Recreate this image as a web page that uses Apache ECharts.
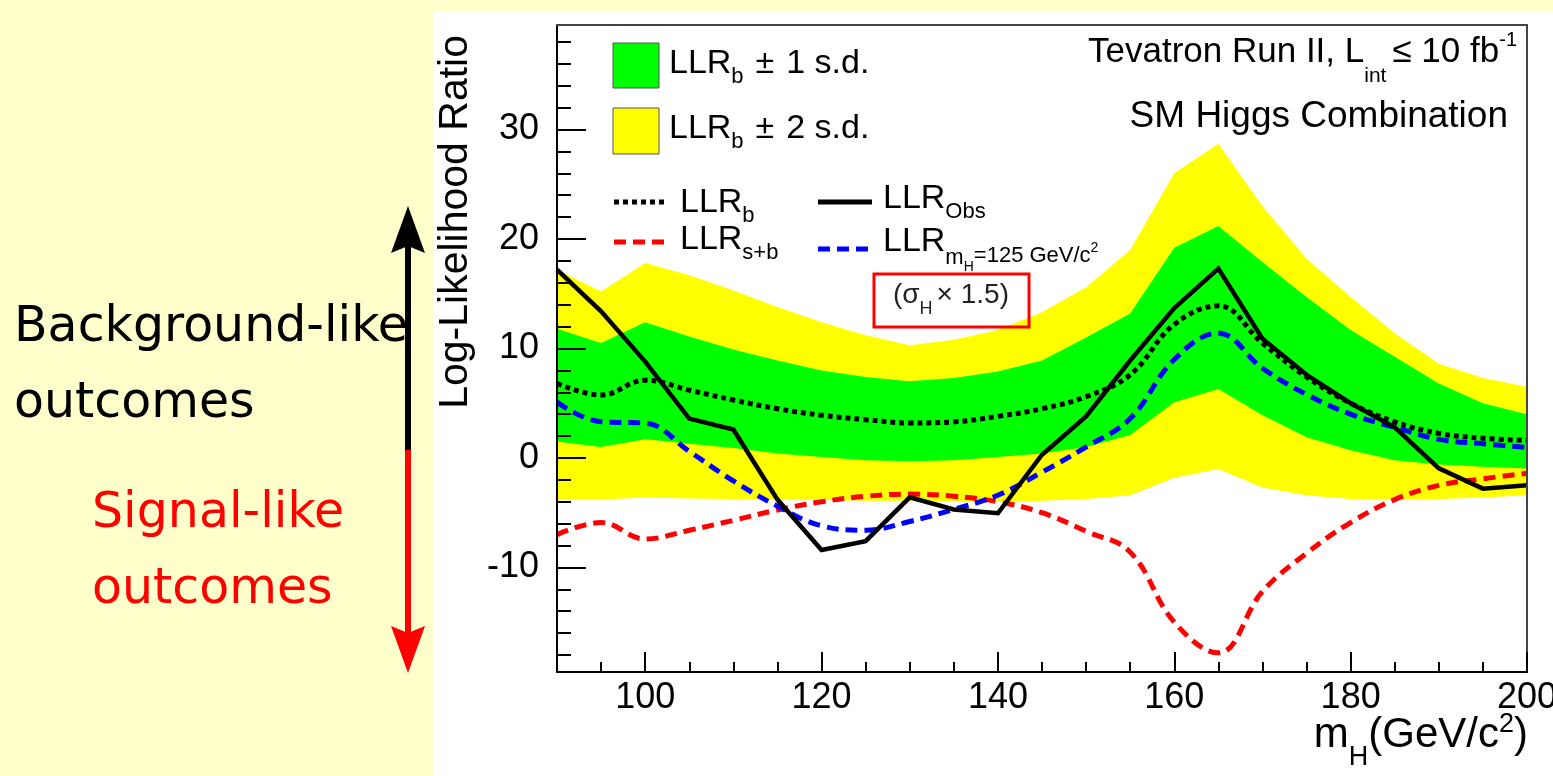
<!DOCTYPE html>
<html>
<head>
<meta charset="utf-8">
<script src="https://cdn.jsdelivr.net/npm/echarts@6/dist/echarts.min.js"></script>
<style>
html,body{margin:0;padding:0;background:#ffffcc;}
#chart{width:1553px;height:776px;}
</style>
</head>
<body>
<div id="chart"></div>
<script>
// ---- data (LLR vs Higgs mass) ----
const mass = [90,95,100,105,110,115,120,125,130,135,140,145,150,155,160,165,170,175,180,185,190,195,200];
const llrObs = [17.2,13.4,8.8,3.6,2.6,-3.8,-8.4,-7.6,-3.6,-4.7,-5.05,0.3,3.8,8.9,13.7,17.3,10.9,7.6,5.0,2.8,-0.95,-2.8,-2.5];
const llrB = [6.8,5.75,7.1,6.2,5.3,4.5,3.9,3.5,3.2,3.3,3.8,4.5,5.6,7.6,12.2,13.9,10.5,7.4,5.0,3.3,2.25,1.8,1.6];
const llrSB = [-7.0,-5.9,-7.4,-6.6,-5.7,-4.75,-4.0,-3.5,-3.3,-3.5,-4.0,-5.0,-6.7,-8.6,-15.0,-17.8,-12.2,-8.7,-5.9,-3.8,-2.5,-1.9,-1.4];
const llr125 = [5.1,3.3,3.2,0.6,-2.1,-4.4,-6.2,-6.6,-5.8,-4.7,-3.4,-1.3,1.0,3.6,9.0,11.4,8.2,5.8,4.0,2.8,1.7,1.3,0.95];
const band1Hi = [11.8,10.5,12.4,11.1,9.9,8.9,8.0,7.4,7.0,7.3,7.9,8.9,11.0,13.2,19.2,21.2,17.9,14.7,11.7,9.25,6.8,5.0,4.0];
const band1Lo = [1.5,1.0,1.7,1.3,0.9,0.4,0.1,-0.2,-0.3,-0.2,0.1,0.4,1.0,2.1,5.1,6.3,3.9,1.9,0.7,-0.2,-0.6,-0.8,-0.95];
const band2Hi = [17.2,15.2,17.8,16.7,15.3,13.8,12.4,11.2,10.3,10.8,11.7,13.3,15.6,19.0,26.0,28.7,23.0,18.2,14.7,11.4,8.6,7.3,6.5];
const band2Lo = [-3.75,-3.8,-3.6,-3.7,-3.75,-3.8,-3.85,-3.9,-3.9,-3.95,-4.0,-3.9,-3.75,-3.4,-1.8,-1.0,-2.7,-3.4,-3.75,-3.8,-3.75,-3.6,-3.4];
const xMajorTicks = [100,120,140,160,180,200];
const xMinorTicks = [95,105,110,115,125,130,135,145,150,155,165,170,175,185,190,195];
const yMajorTicks = [-10,0,10,20,30];
const yMinorTicks = [-18,-16,-14,-12,-8,-6,-4,-2,2,4,6,8,12,14,16,18,22,24,26,28,32,34,36,38];

const FONT = '"Liberation Sans", Arial, Helvetica, sans-serif';
const cv = document.createElement('canvas').getContext('2d');
function tw(t, s, fam) { cv.font = s + 'px ' + (fam || FONT); return cv.measureText(t).width; }
function txt(x, y, t, s, opts) {
  opts = opts || {};
  return {type:'text', x:x, y:y, z:100, rotation: opts.rot || 0, silent:true,
    style:{text:t, fontSize:s, fontFamily: opts.fam || FONT, fill: opts.color || '#000',
      align: opts.align || 'left', verticalAlign:'middle'}};
}
function seq(x, pieces, out) {
  pieces.forEach(p => { out.push(txt(x, p.y, p.t, p.s, p)); x += tw(p.t, p.s) + (p.gap || 0); });
  return x;
}
function seqWidth(pieces) { return pieces.reduce((a,p)=>a + tw(p.t,p.s) + (p.gap||0), 0); }

const g = [];
// white panel
g.push({type:'rect', z:-10, silent:true, shape:{x:433,y:11,width:1120,height:765}, style:{fill:'#ffffff'}});
// left annotations
const CF = '"Comic Sans MS", "DejaVu Sans", sans-serif';
g.push(txt(14, 328, 'Background-like', 49, {fam:CF}));
g.push(txt(14, 404, 'outcomes', 49, {fam:CF}));
g.push(txt(92, 514, 'Signal-like', 49, {fam:CF, color:'#ff0000'}));
g.push(txt(92, 590, 'outcomes', 49, {fam:CF, color:'#ff0000'}));
g.push({type:'line', z:50, silent:true, shape:{x1:408,y1:245,x2:408,y2:450}, style:{stroke:'#000', lineWidth:6}});
g.push({type:'polygon', z:50, silent:true, shape:{points:[[408,206],[391,253],[408,246],[425,253]]}, style:{fill:'#000'}});
g.push({type:'line', z:50, silent:true, shape:{x1:408,y1:450,x2:408,y2:633}, style:{stroke:'#ff0000', lineWidth:6}});
g.push({type:'polygon', z:50, silent:true, shape:{points:[[408,673],[391,626],[408,633],[425,626]]}, style:{fill:'#ff0000'}});

// y-axis title
g.push(txt(456, 35, 'Log-Likelihood Ratio', 41, {rot:Math.PI/2, align:'right'}));
// x-axis title (right aligned at 1528)
const xt = [
  {t:'m', s:42, y:735}, {t:'H', s:27, y:758}, {t:'(GeV/c', s:42, y:735}, {t:'2', s:27, y:725}, {t:')', s:42, y:735}
];
seq(1528 - seqWidth(xt), xt, g);

// legend
g.push({type:'rect', z:100, silent:true, shape:{x:613,y:43,width:46,height:45}, style:{fill:'#00ff00', stroke:'#555', lineWidth:1}});
g.push({type:'rect', z:100, silent:true, shape:{x:613,y:108,width:46,height:46}, style:{fill:'#ffff00', stroke:'#555', lineWidth:1}});
seq(669, [{t:'LLR', s:34, y:64}, {t:'b', s:22, y:77, gap:12}, {t:'±', s:34, y:64, gap:12}, {t:'1 s.d.', s:34, y:64}], g);
seq(669, [{t:'LLR', s:34, y:129}, {t:'b', s:22, y:142, gap:12}, {t:'±', s:34, y:129, gap:12}, {t:'2 s.d.', s:34, y:129}], g);
g.push({type:'line', z:100, silent:true, shape:{x1:614,y1:202,x2:668,y2:202}, style:{stroke:'#000', lineWidth:5, lineDash:[5,4]}});
seq(680, [{t:'LLR', s:34, y:203}, {t:'b', s:22, y:216}], g);
g.push({type:'line', z:100, silent:true, shape:{x1:614,y1:242,x2:664,y2:242}, style:{stroke:'#ff0000', lineWidth:5, lineDash:[12,7]}});
seq(680, [{t:'LLR', s:34, y:240}, {t:'s+b', s:22, y:253}], g);
g.push({type:'line', z:100, silent:true, shape:{x1:818,y1:202,x2:872,y2:202}, style:{stroke:'#000', lineWidth:5}});
seq(883, [{t:'LLR', s:34, y:199}, {t:'Obs', s:22, y:212}], g);
g.push({type:'line', z:100, silent:true, shape:{x1:818,y1:249,x2:870,y2:249}, style:{stroke:'#0000ff', lineWidth:5, lineDash:[12,7]}});
seq(883, [{t:'LLR', s:34, y:242}, {t:'m', s:22, y:258}, {t:'H', s:14, y:267}, {t:'=125 GeV/c', s:22, y:256}, {t:'2', s:14, y:248}], g);
g.push({type:'rect', z:100, silent:true, shape:{x:874,y:274,width:155,height:53}, style:{fill:'none', stroke:'#ff0000', lineWidth:3}});
seq(893, [{t:'(σ', s:28, y:295, color:'#222'}, {t:'H', s:18, y:309, color:'#222', gap:4}, {t:'× 1.5)', s:28, y:295, color:'#222'}], g);

// top-right labels
const tv = [{t:'Tevatron Run II, L', s:35, y:52}, {t:'int', s:21, y:76, gap:6}, {t:'≤ 10 fb', s:35, y:52}, {t:'-1', s:20, y:40}];
seq(1517 - seqWidth(tv), tv, g);
g.push(txt(1508, 117, 'SM Higgs Combination', 37, {align:'right'}));

function band(lo, hi, color, z) {
  return {type:'custom', xAxisIndex:0, yAxisIndex:0, z:z, silent:true, clip:true,
    data: mass.map((m,i)=>[m, lo[i], hi[i]]), encode:{x:0, y:[1,2]},
    renderItem: function(params, api) {
      if (params.dataIndex !== 0) return;
      const pts = [];
      for (let i = 0; i < mass.length; i++) pts.push(api.coord([mass[i], hi[i]]));
      for (let i = mass.length - 1; i >= 0; i--) pts.push(api.coord([mass[i], lo[i]]));
      return {type:'polygon', shape:{points:pts}, style:{fill:color}};
    }};
}
function line(vals, color, width, dash, smooth, z) {
  return {type:'line', xAxisIndex:0, yAxisIndex:0, z:z, silent:true, showSymbol:false, symbol:'none',
    smooth: smooth, data: mass.map((m,i)=>[m, vals[i]]),
    lineStyle:{color:color, width:width, type: dash || 'solid', cap:'butt', join:'miter'}};
}

const axisBase = {min:90, max:200, type:'value', splitLine:{show:false}};
const option = {
  backgroundColor:'#ffffcc',
  animation:false,
  grid:{left:557, right:26, top:25, bottom:104, containLabel:false, outerBoundsMode:'none'},
  xAxis:[
    Object.assign({}, axisBase, {position:'bottom', z:10,
      axisLine:{show:true, onZero:false, lineStyle:{color:'#000', width:2}},
      axisTick:{show:true, inside:true, length:20, customValues:xMajorTicks, lineStyle:{color:'#000', width:2}},
      axisLabel:{show:true, customValues:xMajorTicks, fontSize:36, color:'#000', fontFamily:FONT, margin:8, hideOverlap:false}}),
    Object.assign({}, axisBase, {position:'bottom', z:10,
      axisLine:{show:false, onZero:false},
      axisTick:{show:true, inside:true, length:10, customValues:xMinorTicks, lineStyle:{color:'#000', width:2}},
      axisLabel:{show:false}}),
    Object.assign({}, axisBase, {position:'top', z:10,
      axisLine:{show:true, onZero:false, lineStyle:{color:'#444', width:2}},
      axisTick:{show:false}, axisLabel:{show:false}})
  ],
  yAxis:[
    {type:'value', min:-19.55, max:39.55, position:'left', z:10, splitLine:{show:false},
      axisLine:{show:true, onZero:false, lineStyle:{color:'#000', width:2}},
      axisTick:{show:true, inside:true, length:29, customValues:yMajorTicks, lineStyle:{color:'#000', width:2}},
      axisLabel:{show:true, customValues:yMajorTicks, fontSize:36, color:'#000', fontFamily:FONT, margin:18}},
    {type:'value', min:-19.55, max:39.55, position:'left', z:10, splitLine:{show:false},
      axisLine:{show:false, onZero:false},
      axisTick:{show:true, inside:true, length:14, customValues:yMinorTicks, lineStyle:{color:'#000', width:2}},
      axisLabel:{show:false}},
    {type:'value', min:-19.55, max:39.55, position:'right', z:10, splitLine:{show:false},
      axisLine:{show:true, onZero:false, lineStyle:{color:'#444', width:2}},
      axisTick:{show:false}, axisLabel:{show:false}}
  ],
  graphic:{elements:g},
  series:[
    band(band2Lo, band2Hi, '#ffff00', 1),
    band(band1Lo, band1Hi, '#00ff00', 2),
    line(llrSB, '#ff0000', 5, [12,7], 0.4, 3),
    line(llr125, '#0000ff', 5, [12,7], 0.4, 4),
    line(llrB, '#000000', 5, [5,4], 0.4, 5),
    line(llrObs, '#000000', 4.5, 'solid', false, 6)
  ]
};
const chart = echarts.init(document.getElementById('chart'), null, {renderer:'canvas'});
chart.setOption(option);
</script>
</body>
</html>
